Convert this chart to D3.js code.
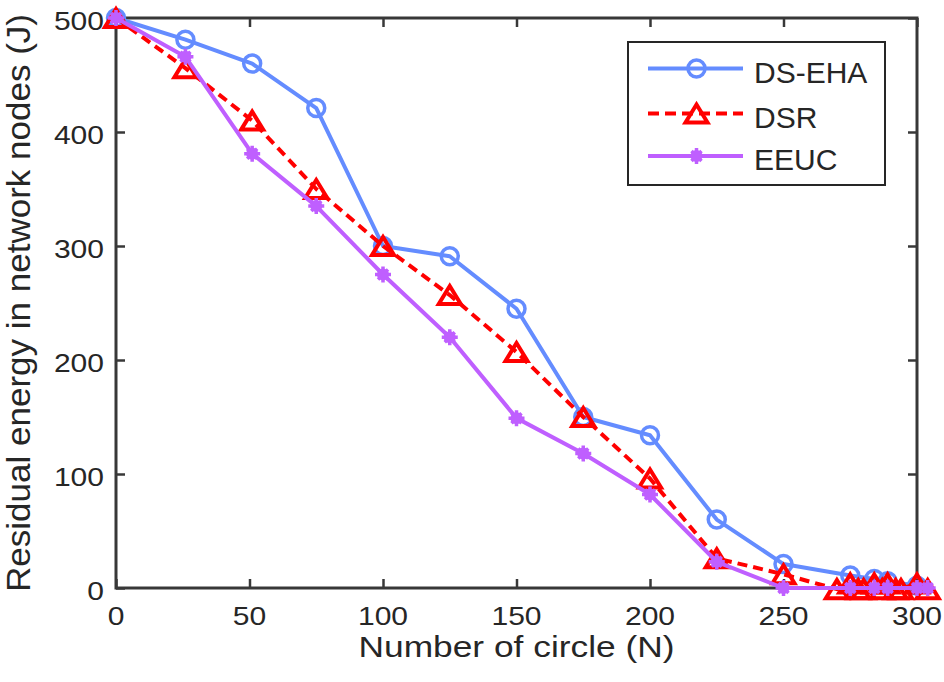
<!DOCTYPE html>
<html>
<head>
<meta charset="utf-8">
<script src="https://cdn.jsdelivr.net/npm/d3@7"></script>
<style>
  html, body { margin: 0; padding: 0; background: #fff; }
  svg { display: block; }
  text { font-family: "Liberation Sans", Arial, Helvetica, sans-serif; fill: #262626; }
</style>
</head>
<body>
<svg id="chart" width="944" height="682"></svg>
<script>
// ---- data ----
const xTicks = [0, 50, 100, 150, 200, 250, 300];
const yTicks = [0, 100, 200, 300, 400, 500];

const seriesNames = ["DS-EHA", "DSR", "EEUC"];

const dsEhaX = [0, 26, 51, 75, 100, 125, 150, 175, 200, 225, 250, 275, 284, 289, 300];
const dsEhaY = [500, 481, 460, 421, 300, 291, 245, 150, 134, 60, 21, 11, 8, 6, 2];

const dsrX = [0, 26, 51, 75, 100, 125, 150, 175, 200, 225, 250, 270, 275, 278, 280, 284, 287, 289, 292, 294, 300, 304];
const dsrY = [500, 456, 410, 350, 300, 257, 207, 150, 96, 26, 12, -1, 4, -1, -1, 4, -1, 4, -1, -1, 4, -1];

const eeucX = [0, 26, 51, 75, 100, 125, 150, 175, 200, 225, 250, 275, 284, 289, 300, 304];
const eeucY = [500, 466, 381, 335, 275, 220, 149, 118, 82, 23, 0, 0, 0, 0, 0, 0];

const colors = { "DS-EHA": "#648cff", "DSR": "#ff0000", "EEUC": "#bf5fff" };

// ---- layout ----
const svg = d3.select("#chart");
const L = 116, R = 917, T = 18, B = 588;
const x = d3.scaleLinear().domain([0, 300]).range([L, R]);
const y = d3.scaleLinear().domain([0, 500]).range([B, T]);
const axisColor = "#383838";

const zip = (xs, ys) => xs.map((v, i) => [v, ys[i]]);
const series = [
  { name: "DS-EHA", pts: zip(dsEhaX, dsEhaY), dash: null, marker: "circle" },
  { name: "DSR", pts: zip(dsrX, dsrY), dash: "10,6", marker: "triangle" },
  { name: "EEUC", pts: zip(eeucX, eeucY), dash: null, marker: "star" }
];

// ---- axes box ----
const tickLen = 9;
const axG = svg.append("g");
const xAxis = d3.axisBottom(x).tickValues(xTicks).tickSize(-tickLen).tickFormat("");
const yAxis = d3.axisLeft(y).tickValues(yTicks).tickSize(-tickLen).tickFormat("");
const xTop = d3.axisTop(x).tickValues(xTicks).tickSize(-tickLen).tickFormat("");
const yRight = d3.axisRight(y).tickValues(yTicks).tickSize(-tickLen).tickFormat("");

function styleAxis(g) {
  g.selectAll(".tick line").attr("stroke", axisColor).attr("stroke-width", 2.5);
}
axG.append("g").attr("transform", `translate(0,${B})`).call(xAxis).call(styleAxis);
axG.append("g").attr("transform", `translate(${L},0)`).call(yAxis).call(styleAxis);
axG.append("g").attr("transform", `translate(0,${T})`).call(xTop).call(styleAxis);
axG.append("g").attr("transform", `translate(${R},0)`).call(yRight).call(styleAxis);
axG.selectAll("path.domain").remove();
svg.append("rect").attr("x", L).attr("y", T).attr("width", R - L).attr("height", B - T)
  .attr("fill", "none").attr("stroke", axisColor).attr("stroke-width", 3);

// tick labels
const charW = 16.7;
svg.append("g").selectAll("text").data(xTicks).join("text")
  .attr("x", d => x(d)).attr("y", 625)
  .attr("text-anchor", "middle")
  .attr("font-size", 25)
  .attr("textLength", d => String(d).length * charW)
  .attr("lengthAdjust", "spacingAndGlyphs")
  .text(d => d);
svg.append("g").selectAll("text").data(yTicks).join("text")
  .attr("x", 104).attr("y", d => y(d) + 12)
  .attr("text-anchor", "end")
  .attr("font-size", 25)
  .attr("textLength", d => String(d).length * charW)
  .attr("lengthAdjust", "spacingAndGlyphs")
  .text(d => d);

// axis labels
svg.append("text").attr("x", (L + R) / 2).attr("y", 657)
  .attr("text-anchor", "middle").attr("font-size", 29)
  .attr("textLength", 316).attr("lengthAdjust", "spacingAndGlyphs")
  .text("Number of circle (N)");
svg.append("text").attr("transform", `translate(30,${(T + B) / 2}) rotate(-90)`)
  .attr("text-anchor", "middle").attr("font-size", 34)
  .attr("textLength", 578).attr("lengthAdjust", "spacingAndGlyphs")
  .text("Residual energy in network nodes (J)");

// ---- markers ----
function drawMarker(g, type, cx, cy, color) {
  if (type === "circle") {
    g.append("circle").attr("cx", cx).attr("cy", cy).attr("r", 8.5)
      .attr("fill", "none").attr("stroke", color).attr("stroke-width", 3.5);
  } else if (type === "triangle") {
    g.append("path")
      .attr("d", `M${cx},${cy - 9}L${cx + 11},${cy + 9}L${cx - 11},${cy + 9}Z`)
      .attr("fill", "none").attr("stroke", color).attr("stroke-width", 4)
      .attr("stroke-linejoin", "miter");
  } else {
    const a = 8, d = 5;
    g.append("path")
      .attr("d", `M${cx},${cy - a}V${cy + a}M${cx - a},${cy}H${cx + a}M${cx - d},${cy - d}L${cx + d},${cy + d}M${cx - d},${cy + d}L${cx + d},${cy - d}`)
      .attr("stroke", color).attr("stroke-width", 3.5).attr("fill", "none");
    g.append("circle").attr("cx", cx).attr("cy", cy).attr("r", 6).attr("fill", color);
  }
}

const line = d3.line().x(d => x(d[0])).y(d => y(d[1]));
const plotG = svg.append("g");
series.forEach(s => {
  const g = plotG.append("g");
  g.append("path").datum(s.pts).attr("d", line)
    .attr("fill", "none").attr("stroke", colors[s.name]).attr("stroke-width", 4)
    .attr("stroke-dasharray", s.dash).attr("stroke-linejoin", "round");
  s.pts.forEach(p => drawMarker(g, s.marker, x(p[0]), y(p[1]), colors[s.name]));
});

// ---- legend ----
const lg = svg.append("g");
lg.append("rect").attr("x", 628).attr("y", 42).attr("width", 257).attr("height", 143)
  .attr("fill", "#fff").attr("stroke", "#262626").attr("stroke-width", 2);
const rowY = [68.5, 113.5, 156];
const baseY = [83, 128, 170];
series.forEach((s, i) => {
  lg.append("line").attr("x1", 648).attr("x2", 743).attr("y1", rowY[i]).attr("y2", rowY[i])
    .attr("stroke", colors[s.name]).attr("stroke-width", 4)
    .attr("stroke-dasharray", s.dash ? "11,6" : null);
  drawMarker(lg, s.marker, 696.5, rowY[i], colors[s.name]);
  lg.append("text").attr("x", 754).attr("y", baseY[i]).attr("font-size", 30).text(seriesNames[i]);
});
</script>
</body>
</html>
